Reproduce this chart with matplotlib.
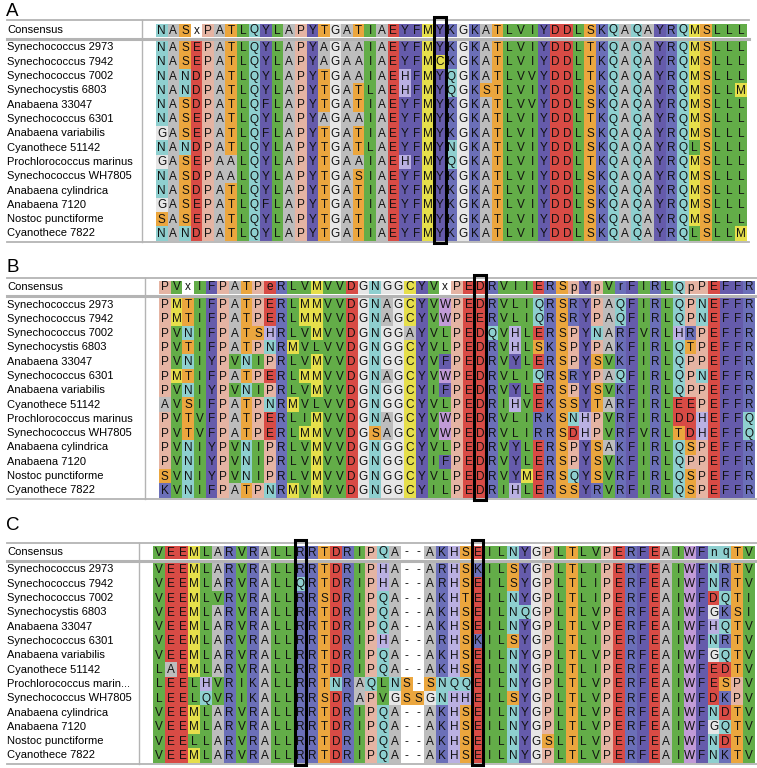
"""Three-panel coloured sequence alignment (A, B, C) with consensus rows."""
import matplotlib

matplotlib.use("Agg")
import matplotlib.pyplot as plt
from matplotlib.patches import Rectangle

plt.rcParams["font.family"] = ["Liberation Sans", "DejaVu Sans"]

NAMES = [
    "Synechococcus 2973",
    "Synechococcus 7942",
    "Synechococcus 7002",
    "Synechocystis 6803",
    "Anabaena 33047",
    "Synechococcus 6301",
    "Anabaena variabilis",
    "Cyanothece 51142",
    "Prochlorococcus marinus",
    "Synechococcus WH7805",
    "Anabaena cylindrica",
    "Anabaena 7120",
    "Nostoc punctiforme",
    "Cyanothece 7822",
]
NAMES_C = NAMES[:8] + ["Prochlorococcus marin..."] + NAMES[9:]

CONSENSUS_A = "NASxPATLQYLAPYTGATIAEYFMYKGKATLVIYDDLSKQAQAYRQMSLLL"
SEQS_A = [
    "NASEPATLQYLAPYAGAAIAEYFMYKGKATLVIYDDLTKQAQAYRQMSLLL",
    "NASEPATLQYLAPYAGAAIAEYFMCKGKATLVIYDDLTKQAQAYRQMSLLL",
    "NANDPATLQYLAPYTGAAIAEHFMYQGKATLVVYDDLTKQAQAYRQMSLLL",
    "NANDPATLQYLAPYTGATLAEHFMYQGKSTLVIYDDLSKQAQAYRQMSLLM",
    "NASDPATLQFLAPYTGATIAEYFMYKGKATLVVYDDLSKQAQAYRQMSLLL",
    "NASEPATLQYLAPYAGAAIAEYFMYKGKATLVIYDDLTKQAQAYRQMSLLL",
    "GASEPATLQFLAPYTGATIAEYFMYKGKATLVIYDDLSKQAQAYRQMSLLL",
    "NANDPATLQYLAPYTGATLAEYFMYNGKATLVIYDDLSKQAQAYRQLSLLL",
    "GASEPAALQYLAPYTGAAIAEHFMYQGKATLVIYDDLTKQAQAYRQMSLLL",
    "NASDPAALQYLAPYTGASIAEYFMYKGKATLVIYDDLSKQAQAYRQMSLLL",
    "NASDPATLQYLAPYTGATIAEYFMYKGKATLVIYDDLSKQAQAYRQMSLLL",
    "GASEPATLQFLAPYTGATIAEYFMYKGKATLVIYDDLSKQAQAYRQMSLLL",
    "SASEPATLQYLAPYTGATIAEYFMYKGKATLVIYDDLSKQAQAYRQMSLLL",
    "NANDPATLQYLAPYTGATIAEYFMYKGKATLVIYDDLSKQAQAYRQLSLLM",
]
BOXED_A = [25]

CONSENSUS_B = "PVxIFPATPeRLVMVVDGNGGCYVxPEDRVIIERSpYpVrFIRLQpPEFFR"
SEQS_B = [
    "PMTIFPATPERLMMVVDGNAGCYVWPEDRVLIQRSRYPAQFIRLQPNEFFR",
    "PMTIFPATPERLMMVVDGNAGCYVWPEERVLIQRSRYPAQFIRLQPNEFFR",
    "PVNIFPATSHRLVMVVDGNGGAYVLPEDQVHLERSPYNARFVRLHRPEFFR",
    "PVTIFPATPNRMVLVVDGNGGCYVLPEDRVHLSKSPYPAKFIRLQTPEFFR",
    "PVNIYPVNIPRLVMVVDGNGGCYVFPEDRVYLERSPYSVKFIRLQPPEFFR",
    "PMTIFPATPERLMMVVDGNAGCYVWPEDRVLIQRSRYPAQFIRLQPNEFFR",
    "PVNIYPVNIPRLVMVVDGNGGCYIFPEDRVYLERSPYSVKFIRLQPPEFFR",
    "AVSIFPATPNRMVLVVDGNGGCYVLPEDRIHVEKSSYTARFIRLEEPEFFR",
    "PVTVFPATPERLIMVVDGNAGCYVWPEDRVLIRKSNHPVRFIRLDDHEFFQ",
    "PVTVFPATPERLMMVVDGSAGCYVWPEDRVLIRRSDHPVRFVRLTDHEFFQ",
    "PVNIYPVNIPRLVMVVDGNGGCYVLPEDRVYLERSPYSAKFIRLQSPEFFR",
    "PVNIYPVNIPRLVMVVDGNGGCYIFPEDRVYLERSPYSVKFIRLQPPEFFR",
    "SVNIYPVNIPRLVMVVDGNGGCYVLPEDRVYMERSQYSVRFIRLQSPEFFR",
    "KVNIFPATPNRMVMVVDGNGGCYILPEDRIHLERSSYRVRFIRLQSPEFFR",
]
BOXED_B = [28]

CONSENSUS_C = "VEEMLARVRALLRRTDRIPQA--AKHSEILNYGPLTLVPERFEAIWFnqTV"
SEQS_C = [
    "VEEMLARVRALLRRTDRIPHA--ARHSKILSYGPLTLIPERFEAIWFNRTV",
    "VEEMLARVRALLQRTDRIPHA--ARHSEILSYGPLTLIPERFEAIWFNRTV",
    "VEEMLVRVRALLRRSDRIPQA--AKHTEILNYGPLTLIPERFEAIWFDQTI",
    "VEEMLARVRALLRRTDRIPQA--AKHSEILNQGPLTLVPERFEAIWFGKSI",
    "VEEMLARVRALLRRTDRIPQA--AKHSEILNYGPLTLVPERFEAIWFHQTV",
    "VEEMLARVRALLRRTDRIPHA--ARHSKILSYGPLTLIPERFEAIWFNRTV",
    "VEEMLARVRALLRRTDRIPQA--AKHSEILNYGPLTLVPERFEAIWFGQTV",
    "LAEMLARVRALLRRTDRIPQA--AKHSEILNYGPLTLIPERFEAIWFEDTV",
    "LEELHVRIKALLRRTNRAQLNS-SNQQEILNYGPLTLVPERFEAIWFESPV",
    "LEELQVRIKALLRRSDRAPVGSSGNHHEILSYGPLTLVPERFEAIWFDKPV",
    "VEEMLARVRALLRRTDRIPQA--AKHSEILNYGPLTLVPERFEAIWFNDTV",
    "VEEMLARVRALLRRTDRIPQA--AKHSEILNYGPLTLVPERFEAIWFGQTV",
    "VEELLARVRALLRRTDRIPQA--AKHSEILNYGSLTLVPERFEAIWFNDTV",
    "VEEMLARVRALLRRTDRIPQA--AKHSEILNYGPLTLVPERFEAIWFNKTV",
]
BOXED_C = [13, 28]

RESIDUE_COLORS = {
    "A": "#bdbdbd", "G": "#e6e6e6", "P": "#e5b4a3",
    "S": "#eba63e", "T": "#eba63e",
    "N": "#8ecfcf", "Q": "#8ecfcf",
    "D": "#d84b45", "E": "#d84b45",
    "K": "#6b6fb8", "R": "#6b6fb8", "H": "#bab0e2",
    "L": "#63ad48", "I": "#63ad48", "V": "#63ad48",
    "M": "#e6df4b", "C": "#e6df4b",
    "F": "#655bab", "Y": "#655bab", "W": "#c19bd7",
    "X": "white", "-": "white",
}

# panel layout in pixels: label y, header top, consensus y, first row y, seq x0, cell width
PANELS = [
    ("A", NAMES, CONSENSUS_A, SEQS_A, BOXED_A, 11, 20, 30, 47.5, 156, 11.58),
    ("B", NAMES, CONSENSUS_B, SEQS_B, BOXED_B, 267, 278, 287, 304.5, 159, 11.68),
    ("C", NAMES_C, CONSENSUS_C, SEQS_C, BOXED_C, 525, 543, 552, 569.5, 153, 11.8),
]
ROW_H = 14.3
LINE_GREY = "#b4b4b4"


def draw_cell(ax, x, y, w, h, ch):
    ax.add_patch(Rectangle((x, y - h / 2), w, h, facecolor=RESIDUE_COLORS[ch.upper()],
                           edgecolor="none"))
    ax.text(x + w / 2, y + 0.5, ch, ha="center", va="center", fontsize=8.5, color="#111111")


def draw_panel(ax, letter, names, consensus, seqs, boxed, y_lab, y_top, y_cons, y_row0, x0, cw):
    x_end = x0 + cw * len(consensus)
    y_last = y_row0 + ROW_H * (len(seqs) - 1)
    y_bottom = y_last + ROW_H / 2 + 1.5
    ax.text(6, y_lab, letter, fontsize=13.5, ha="left", va="center")
    # frame lines
    ax.plot([7, x_end + 2], [y_top, y_top], color=LINE_GREY, lw=1.3)
    ax.plot([7, x_end + 2], [y_cons + 9, y_cons + 9], color=LINE_GREY, lw=2.2)
    ax.plot([7, x_end + 2], [y_bottom, y_bottom], color=LINE_GREY, lw=1.3)
    ax.plot([x0 - 14, x0 - 14], [y_top, y_bottom], color=LINE_GREY, lw=1.0)
    # consensus row
    ax.text(7, y_cons, "Consensus", fontsize=8, ha="left", va="center")
    for j, ch in enumerate(consensus):
        draw_cell(ax, x0 + j * cw, y_cons, cw, 13, ch)
    # sequences
    for i, (name, seq) in enumerate(zip(names, seqs)):
        y = y_row0 + i * ROW_H
        ax.text(7, y, name, fontsize=8, ha="left", va="center")
        for j, ch in enumerate(seq):
            draw_cell(ax, x0 + j * cw, y, cw, ROW_H + 0.2, ch)
    # highlighted columns
    for col in boxed:
        bx = x0 + (col - 1) * cw
        ax.add_patch(Rectangle((bx, y_top - 3), cw, y_bottom - y_top + 4, facecolor="none",
                               edgecolor="black", lw=2.2, zorder=5))


def main():
    fig = plt.figure(figsize=(7.57, 7.68), dpi=100)
    ax = fig.add_axes([0, 0, 1, 1])
    ax.set_xlim(0, 757)
    ax.set_ylim(768, 0)
    ax.axis("off")
    for panel in PANELS:
        draw_panel(ax, *panel)
    fig.savefig("out.png", dpi=100)
    plt.close(fig)


if __name__ == "__main__":
    main()
